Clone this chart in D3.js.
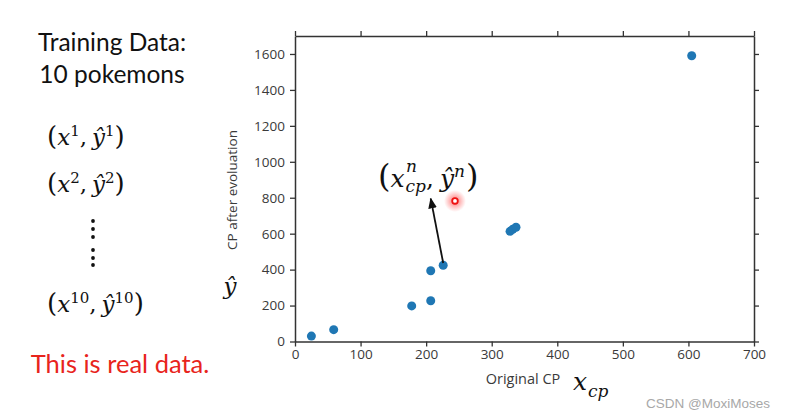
<!DOCTYPE html>
<html><head><meta charset="utf-8">
<script src="https://cdn.jsdelivr.net/npm/d3@7"></script>
<style>
html,body{margin:0;padding:0;background:#fff;}
svg{display:block;}
</style></head>
<body>
<script>
// ---- data ----
const originalCP = [25, 59, 178, 207, 207, 226, 328, 332, 337, 605];
const cpAfterEvolution = [30, 66, 198, 227, 394, 424, 613, 624, 636, 1590];
const highlightPoint = [244, 782];
const arrowFrom = [226, 437];
const arrowTo = [207, 795];
const xTicks = [0, 100, 200, 300, 400, 500, 600, 700];
const yTicks = [0, 200, 400, 600, 800, 1000, 1200, 1400, 1600];

const W = 786, H = 419;
const svg = d3.select("body").append("svg").attr("width", W).attr("height", H);
const defs = svg.append("defs");
const glow = defs.append("radialGradient").attr("id", "glow");
glow.append("stop").attr("offset", "0%").attr("stop-color", "#ff3030").attr("stop-opacity", 0.75);
glow.append("stop").attr("offset", "55%").attr("stop-color", "#ff5050").attr("stop-opacity", 0.35);
glow.append("stop").attr("offset", "100%").attr("stop-color", "#ff6060").attr("stop-opacity", 0);
defs.append("marker").attr("id", "ah").attr("viewBox", "0 0 10 10").attr("refX", 9).attr("refY", 5)
  .attr("markerWidth", 6).attr("markerHeight", 6).attr("orient", "auto")
  .append("path").attr("d", "M0,1 L10,5 L0,9 Z").attr("fill", "#111");

const x = d3.scaleLinear().domain([0, 700]).range([295, 754]);
const y = d3.scaleLinear().domain([0, 1700]).range([341.5, 36]);

function styleAxis(g) {
  g.selectAll(".domain").attr("stroke", "#333").attr("stroke-width", 1.5);
  g.selectAll(".tick line").attr("stroke", "#333").attr("stroke-width", 1.3);
  g.selectAll(".tick text").attr("fill", "#3a3a3a").style("font-family", "'Open Sans', sans-serif").style("font-size", "13.5px");
}
const fmt = d3.format("d");
const gx = svg.append("g").attr("transform", `translate(0,${y(0)})`)
  .call(d3.axisBottom(x).tickValues(xTicks).tickFormat(fmt).tickSizeInner(5).tickSizeOuter(0).tickPadding(3));
styleAxis(gx);
const gy = svg.append("g").attr("transform", `translate(${x(0)},0)`)
  .call(d3.axisLeft(y).tickValues(yTicks).tickFormat(fmt).tickSizeInner(5).tickSizeOuter(0).tickPadding(5));
styleAxis(gy);
const gt = svg.append("g").attr("transform", `translate(0,${y(1700)})`)
  .call(d3.axisTop(x).tickValues(xTicks).tickSizeInner(5).tickSizeOuter(0).tickFormat(""));
styleAxis(gt);
const gr = svg.append("g").attr("transform", `translate(${x(700)},0)`)
  .call(d3.axisRight(y).tickValues(yTicks).tickSizeInner(5).tickSizeOuter(0).tickFormat(""));
styleAxis(gr);

// points
svg.append("g").selectAll("circle").data(originalCP.map((v, i) => [v, cpAfterEvolution[i]]))
  .join("circle").attr("cx", d => x(d[0])).attr("cy", d => y(d[1])).attr("r", 4.5)
  .attr("fill", "#1f77b4");

// highlighted point
svg.append("circle").attr("cx", x(highlightPoint[0])).attr("cy", y(highlightPoint[1])).attr("r", 11).attr("fill", "url(#glow)");
svg.append("circle").attr("cx", x(highlightPoint[0])).attr("cy", y(highlightPoint[1])).attr("r", 2.8)
  .attr("fill", "#fff").attr("stroke", "#ee1111").attr("stroke-width", 1.8);

// arrow
svg.append("line").attr("x1", x(arrowFrom[0])).attr("y1", y(arrowFrom[1]))
  .attr("x2", x(arrowTo[0])).attr("y2", y(arrowTo[1]))
  .attr("stroke", "#111").attr("stroke-width", 1.8).attr("marker-end", "url(#ah)");

// axis titles
svg.append("text").attr("x", 523).attr("y", 384).attr("text-anchor", "middle")
  .style("font-family", "'Open Sans', sans-serif").style("font-size", "14.5px").attr("fill", "#3a3a3a").text("Original CP");
svg.append("text").attr("transform", "translate(237,190) rotate(-90)").attr("text-anchor", "middle")
  .style("font-family", "'Open Sans', sans-serif").style("font-size", "13.5px").attr("fill", "#3a3a3a").text("CP after evoluation");

const serif = "'DejaVu Serif', 'Liberation Serif', serif";
function mt(xp, yp, size, txt, anchor) {
  return svg.append("text").attr("x", xp).attr("y", yp).attr("text-anchor", anchor || "start")
    .style("font-family", serif).style("font-style", "italic").style("font-size", size + "px").attr("fill", "#111").text(txt);
}
// ŷ axis symbol
mt(230, 294, 23, "ŷ", "middle");
// x_cp
mt(573, 390, 25, "x");
mt(588, 397, 17, "cp");

// left formulas
function pair(xp, yp, sup) {
  const t = svg.append("text").attr("x", xp).attr("y", yp)
    .style("font-family", serif).style("font-size", "23px").attr("fill", "#111");
  t.append("tspan").style("font-style", "normal").style("font-size", "26px").text("(");
  t.append("tspan").style("font-style", "italic").text("x");
  t.append("tspan").attr("dy", -9).style("font-size", "15px").text(sup);
  t.append("tspan").attr("dy", 9).text(",");
  t.append("tspan").attr("dx", 5).style("font-style", "italic").text("ŷ");
  t.append("tspan").attr("dy", -9).style("font-size", "15px").text(sup);
  t.append("tspan").attr("dy", 9).style("font-size", "26px").text(")");
}
pair(47, 145, "1");
pair(47, 192, "2");
pair(47, 312, "10");
// vertical dots
[221, 229, 237, 250, 258, 265].forEach(v => svg.append("circle").attr("cx", 93).attr("cy", v).attr("r", 1.9).attr("fill", "#111"));

// annotation formula
(function () {
  const t = svg.append("text").attr("x", 378).attr("y", 187)
    .style("font-family", serif).style("font-size", "25px").attr("fill", "#111");
  t.append("tspan").style("font-size", "32px").text("(");
  t.append("tspan").style("font-style", "italic").text("x");
  t.append("tspan").attr("dx", 1).style("font-style", "italic").style("font-size", "17px").attr("dy", 5).text("cp");
  t.append("tspan").attr("dy", -5).text(",");
  t.append("tspan").attr("dx", 6).style("font-style", "italic").text("ŷ");
  t.append("tspan").attr("dy", -10).style("font-style", "italic").style("font-size", "17px").text("n");
  t.append("tspan").attr("dy", 10).attr("dx", 1).style("font-size", "32px").text(")");
  mt(406, 172, 17, "n");
})();

// left texts
const sans = "Lato, 'Open Sans', sans-serif";
svg.append("text").attr("x", 112).attr("y", 51).attr("text-anchor", "middle")
  .style("font-family", sans).style("font-size", "24.5px").attr("fill", "#111").text("Training Data:");
svg.append("text").attr("x", 112).attr("y", 83).attr("text-anchor", "middle")
  .style("font-family", sans).style("font-size", "24.5px").attr("fill", "#111").text("10 pokemons");
svg.append("text").attr("x", 120).attr("y", 373).attr("text-anchor", "middle")
  .style("font-family", sans).style("font-size", "25.5px").attr("fill", "#e8241c").text("This is real data.");

// watermark
svg.append("text").attr("x", 770).attr("y", 408).attr("text-anchor", "end")
  .style("font-family", "'Liberation Sans', Arial, sans-serif").style("font-size", "13.5px").attr("fill", "#a8a8a8").text("CSDN @MoxiMoses");
</script>
</body></html>
